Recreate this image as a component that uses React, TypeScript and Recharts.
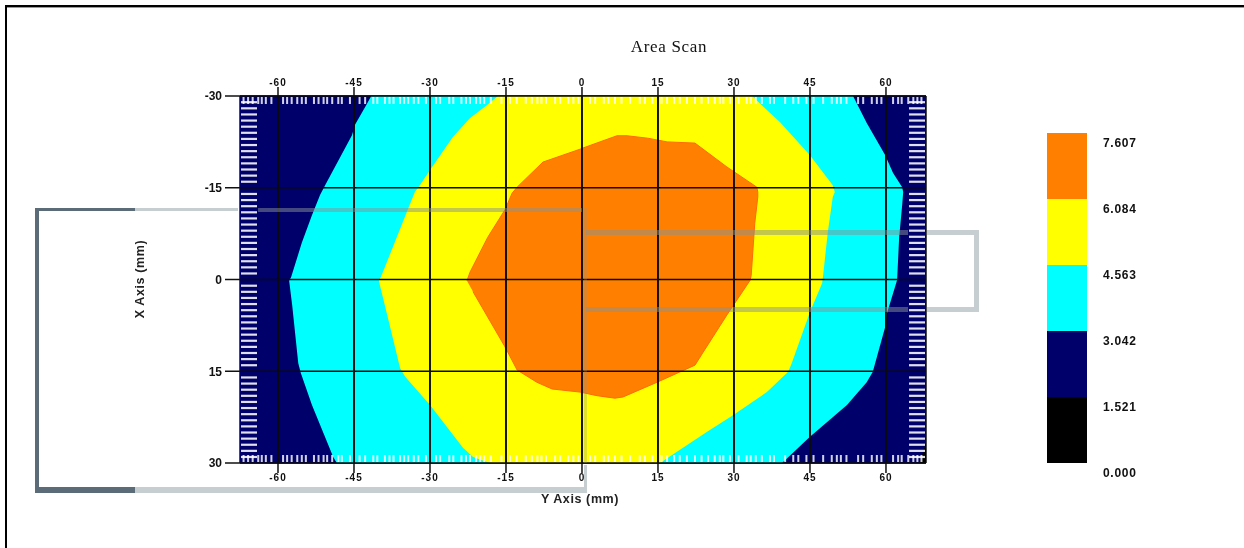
import { ScatterChart, Scatter, XAxis, YAxis, BarChart, Bar } from 'recharts'

const NAVY = '#00006b'
const CYAN = '#00ffff'
const YELLOW = '#ffff00'
const ORANGE = '#ff8000'
const BLACK = '#000000'

const X_DOMAIN = [-67.5, 67.9]
const Y_DOMAIN = [-30, 30]
const X_TICKS = [-60, -45, -30, -15, 0, 15, 30, 45, 60]
const Y_TICKS = [-30, -15, 0, 15, 30]

// contour outlines, [Y axis mm, X axis mm], clockwise from the left-most vertex
const CONTOUR_BACKGROUND = [[-67.5, -30], [67.9, -30], [67.9, 30], [-67.5, 30]]
const CONTOUR_CORNER = [[66.6, 30], [67.9, 26.7], [67.9, 30]]
const CONTOUR_CYAN = [
  [-57.8, 0.2], [-57.4, -0.4], [-55.3, -6], [-53.3, -10.5], [-51.7, -13.8], [-50.7, -15.4], [-45.4, -23.6],
  [-44.8, -25.3], [-42.6, -28.5], [-41.6, -30], [53.5, -30], [56.2, -25.6], [59.8, -20.4], [61.4, -17.4],
  [63.2, -15.1], [63.4, -14.3], [63.2, -12.2], [62.6, -6.9], [62.2, 0.1], [60.2, 5.5], [59.8, 7.9],
  [57.4, 15.1], [56.2, 16.8], [52.3, 20.5], [45, 25.7], [39.5, 30], [-48.4, 30], [-49.1, 29], [-53.3, 20.5],
  [-55.5, 15.3], [-56, 13.7], [-57.2, 4.2],
]
const CONTOUR_YELLOW = [
  [-40.1, 0.2], [-39.7, -0.4], [-34.6, -11], [-33, -14.3], [-32, -15.4], [-30, -17.9], [-25.5, -23.3],
  [-22.1, -26.4], [-18.8, -28.5], [-16.6, -30], [33.6, -30], [36.5, -27.7], [39.1, -25.7], [45, -20.3],
  [49.5, -15.4], [49.9, -14.3], [49.5, -13.5], [48.5, -7.6], [47.6, -0.7], [47.4, 0.6], [45, 5.3], [41.4, 13.7],
  [40.7, 15.1], [36.5, 18.4], [29.8, 22.2], [24.7, 24.9], [15.4, 30], [-18.2, 30], [-21.5, 29], [-23.5, 27.5],
  [-30, 20.5], [-34.9, 15.9], [-35.9, 14.5], [-38.3, 6.3], [-39.9, 0.9],
]
const CONTOUR_ORANGE = [
  [-22.7, 0.2], [-22.1, -1.2], [-18.6, -6.9], [-15.2, -11.4], [-13.8, -14.1], [-12.8, -15.1], [-7.7, -19.2],
  [-0.4, -21.3], [0.2, -21.5], [6.9, -23.5], [8.9, -23.5], [13, -23.1], [16.8, -22.5], [22.3, -22.3],
  [28.6, -18.4], [34.5, -15.1], [34.7, -14.3], [34.7, -13.5], [34.1, -9.2], [33.4, -0.7], [33.2, 0.1],
  [28.6, 5.8], [23.9, 11.9], [22.3, 14], [14.8, 16.8], [8.1, 19.2], [6.5, 19.4], [3, 19], [-0.4, 18.4],
  [-5.9, 17.9], [-8.9, 16.8], [-12.8, 14.8], [-15.2, 11], [-21.5, 2],
]

// small hatch marks along the plot edges
const HATCH_X = [
  -66.8, -65.9, -65, -63.9, -63.2, -62.4, -61.3, -59, -58.2, -57.3, -56.2, -55.3, -54.5, -52.9, -52, -51, -50.3,
  -49.3, -48.1, -47.4, -45.8, -43.9, -42.8, -41.2, -40.4, -38.9, -38, -37.2, -35.9, -35.1, -34.3, -33.2, -32.3,
  -30.8, -28.8, -28, -26.2, -25.4, -23.8, -22.9, -22.1, -20.9, -20.1, -19.3, -18, -15.9, -14.2, -12.9, -11.1,
  -9.9, -8.8, -8, -7.1, -5.3, -4.3, -2.7, -1.7, -0.7, 1.6, 2.6, 4.3, 5.2, 6.5, 7.8, 9.5, 11.4, 12.4, 13.9, 15.7,
  16.8, 18.2, 19.3, 20.7, 22.3, 23.6, 24.9, 26.2, 27.2, 27.9, 29.2, 30.9, 32.5, 33.3, 34.3, 35.5, 37.1, 37.9,
  40.1, 41.7, 42.7, 44.3, 45.7, 47.6, 49.3, 50.3, 51.1, 52.2, 54.5, 55.5, 57.2, 58.2, 59.1, 61.4, 62.4, 63.1,
  64.4, 65.4, 66.2, 67,
]
const HATCH_Y = [
  -29, -28, -27, -26, -25, -24, -23, -22, -21, -20, -19, -18, -17, -16, -14, -13, -12, -11, -10, -9, -8, -7, -6,
  -5, -4, -3, -2, -1, 1, 2, 3, 4, 5, 6, 7, 8, 9, 10, 11, 12, 13, 14, 16, 17, 18, 19, 20, 21, 22, 23, 24, 25, 26,
  27, 28, 29,
]

const LEVEL_COLORS = [BLACK, NAVY, CYAN, YELLOW, ORANGE]
const LEVEL_BANDS = [1.521, 1.521, 1.521, 1.521, 1.523]
const LEVEL_TICKS = [0, 1.521, 3.042, 4.563, 6.084, 7.607]

const toPoints = (rows: number[][]) => rows.map(([x, y]) => ({ x, y }))
const levelRow = [Object.fromEntries(LEVEL_BANDS.map((v, i) => [`band${i}`, v]))]

const axisFont = { fill: '#111', fontSize: 12, fontFamily: 'Liberation Sans', fontWeight: 700 }
const smallFont = { fill: '#111', fontSize: 10, fontFamily: 'Liberation Sans', fontWeight: 700, letterSpacing: 1 }
const lineStyle = { stroke: '#111', strokeWidth: 1.5 }
const noDot = () => <g />

function HatchTop({ cx, cy }: any) {
  return <rect x={cx - 1} y={cy + 1} width={2} height={7} fill="#fff" opacity={0.82} />
}
function HatchBottom({ cx, cy }: any) {
  return <rect x={cx - 1} y={cy - 8} width={2} height={7} fill="#fff" opacity={0.82} />
}
function HatchLeft({ cx, cy }: any) {
  return <rect x={cx + 1} y={cy - 1} width={16} height={2.2} fill="#fff" opacity={0.88} />
}
function HatchRight({ cx, cy }: any) {
  return <rect x={cx - 17} y={cy - 1} width={16} height={2.2} fill="#fff" opacity={0.88} />
}

function LevelTick({ x, y, payload }: any) {
  return (
    <text
      x={x + 8}
      y={y + 14}
      textAnchor="start"
      fill="#111"
      fontSize={12}
      fontFamily="Liberation Sans"
      fontWeight={700}
      letterSpacing={0.7}
    >
      {payload.value.toFixed(3)}
    </text>
  )
}

const contours = [
  { rows: CONTOUR_BACKGROUND, color: NAVY, edge: 'none' },
  { rows: CONTOUR_CORNER, color: BLACK, edge: 'none' },
  { rows: CONTOUR_CYAN, color: CYAN, edge: 'none' },
  { rows: CONTOUR_YELLOW, color: YELLOW, edge: 'none' },
  { rows: CONTOUR_ORANGE, color: ORANGE, edge: '#ff6a00' },
]

const lightGrey = '#c6ced1'
const overGrey = 'rgba(135,145,150,0.5)'
const faintGrey = 'rgba(135,145,150,0.28)'

// the stray frames that sit over the plot in the screenshot
function Frames() {
  return (
    <svg width={1244} height={548} style={{ position: 'absolute', left: 0, top: 0, pointerEvents: 'none' }}>
      <rect x={6} y={5} width={1238} height={2} fill="#000" />
      <rect x={6} y={7} width={1238} height={1} fill="#999" />
      <rect x={5} y={5} width={2} height={543} fill="#000" />
      <rect x={35} y={208} width={100} height={3} fill="#5b6b78" />
      <rect x={35} y={208} width={4} height={285} fill="#5b6b78" />
      <rect x={35} y={487} width={100} height={6} fill="#5b6b78" />
      <rect x={135} y={208} width={103} height={3} fill={lightGrey} />
      <rect x={258} y={208} width={324} height={4} fill={overGrey} />
      <rect x={135} y={487} width={452} height={6} fill={lightGrey} />
      <rect x={584} y={208} width={3} height={255} fill={faintGrey} />
      <rect x={584} y={465} width={3} height={22} fill={lightGrey} />
      <rect x={586} y={230} width={322} height={5} fill={overGrey} />
      <rect x={586} y={307} width={322} height={5} fill={overGrey} />
      <rect x={927} y={230} width={52} height={5} fill={lightGrey} />
      <rect x={927} y={307} width={52} height={5} fill={lightGrey} />
      <rect x={974} y={230} width={5} height={82} fill={lightGrey} />
      <text x={669} y={52} textAnchor="middle" fontSize={17} letterSpacing={0.7} fontFamily="Liberation Serif" fill="#111">
        Area Scan
      </text>
      <text x={580} y={503} textAnchor="middle" fontSize={12.5} fontFamily="Liberation Sans" fontWeight={700} letterSpacing={0.6} fill="#222">
        Y Axis (mm)
      </text>
      <text
        transform="translate(144,279) rotate(-90)"
        textAnchor="middle"
        fontSize={12.5}
        fontFamily="Liberation Sans"
        fontWeight={700}
        letterSpacing={0.6}
        fill="#222"
      >
        X Axis (mm)
      </text>
    </svg>
  )
}

export default function App() {
  return (
    <div style={{ position: 'absolute', left: 0, top: 0, width: 1244, height: 548, background: '#fff', filter: 'blur(0.35px)' }}>
      <div style={{ position: 'absolute', left: 0, top: 0 }}>
        <ScatterChart width={1244} height={548} margin={{ top: 66, right: 288, bottom: 55, left: 210 }}>
          <XAxis
            xAxisId="b"
            dataKey="x"
            type="number"
            orientation="bottom"
            height={30}
            domain={X_DOMAIN}
            allowDataOverflow
            ticks={X_TICKS}
            interval={0}
            tickSize={10}
            tickMargin={1}
            tick={smallFont}
            axisLine={lineStyle}
            tickLine={lineStyle}
          />
          <XAxis
            xAxisId="t"
            dataKey="x"
            type="number"
            orientation="top"
            height={30}
            domain={X_DOMAIN}
            allowDataOverflow
            ticks={X_TICKS}
            interval={0}
            tickSize={9}
            tickMargin={1}
            tick={smallFont}
            axisLine={lineStyle}
            tickLine={lineStyle}
          />
          <YAxis
            yAxisId="l"
            dataKey="y"
            type="number"
            orientation="left"
            width={30}
            reversed
            domain={Y_DOMAIN}
            ticks={Y_TICKS}
            interval={0}
            tickSize={15}
            tickMargin={3}
            tick={axisFont}
            axisLine={lineStyle}
            tickLine={lineStyle}
          />
          <YAxis
            yAxisId="r"
            dataKey="y"
            type="number"
            orientation="right"
            width={30}
            reversed
            domain={Y_DOMAIN}
            ticks={Y_TICKS}
            interval={0}
            tickSize={14}
            tickMargin={5}
            tick={axisFont}
            axisLine={lineStyle}
            tickLine={lineStyle}
          />
          {contours.map((c) => (
            <Scatter
              key={c.color}
              xAxisId="b"
              yAxisId="l"
              data={toPoints(c.rows)}
              line={{ fill: c.color, stroke: c.edge, strokeWidth: 1 }}
              lineJointType="linear"
              shape={noDot}
              isAnimationActive={false}
            />
          ))}
          <Scatter xAxisId="b" yAxisId="l" data={HATCH_X.map((x) => ({ x, y: -30 }))} shape={HatchTop} isAnimationActive={false} />
          <Scatter xAxisId="b" yAxisId="l" data={HATCH_X.map((x) => ({ x, y: 30 }))} shape={HatchBottom} isAnimationActive={false} />
          <Scatter xAxisId="b" yAxisId="l" data={HATCH_Y.map((y) => ({ x: X_DOMAIN[0], y }))} shape={HatchLeft} isAnimationActive={false} />
          <Scatter xAxisId="b" yAxisId="l" data={HATCH_Y.map((y) => ({ x: X_DOMAIN[1], y }))} shape={HatchRight} isAnimationActive={false} />
          {/* grid has to sit above the filled contours */}
          {X_TICKS.map((x) => (
            <Scatter
              key={`gx${x}`}
              xAxisId="b"
              yAxisId="l"
              data={toPoints([[x, Y_DOMAIN[0]], [x, Y_DOMAIN[1]]])}
              line={{ stroke: '#0a0a0a', strokeWidth: 1.9 }}
              lineJointType="linear"
              shape={noDot}
              isAnimationActive={false}
            />
          ))}
          {Y_TICKS.map((y) => (
            <Scatter
              key={`gy${y}`}
              xAxisId="b"
              yAxisId="l"
              data={toPoints([[X_DOMAIN[0], y], [X_DOMAIN[1], y]])}
              line={{ stroke: '#0a0a0a', strokeWidth: 1.7 }}
              lineJointType="linear"
              shape={noDot}
              isAnimationActive={false}
            />
          ))}
        </ScatterChart>
      </div>
      <div style={{ position: 'absolute', left: 1047, top: 123 }}>
        <BarChart width={110} height={360} data={levelRow} barCategoryGap={0} margin={{ top: 10, right: 10, bottom: 20, left: 0 }}>
          <XAxis hide />
          <YAxis
            orientation="right"
            width={60}
            type="number"
            domain={[0, 7.607]}
            ticks={LEVEL_TICKS}
            interval={0}
            axisLine={false}
            tickLine={false}
            tick={LevelTick}
          />
          {LEVEL_COLORS.map((color, i) => (
            <Bar key={color} dataKey={`band${i}`} stackId="levels" fill={color} isAnimationActive={false} />
          ))}
        </BarChart>
      </div>
      <Frames />
    </div>
  )
}
